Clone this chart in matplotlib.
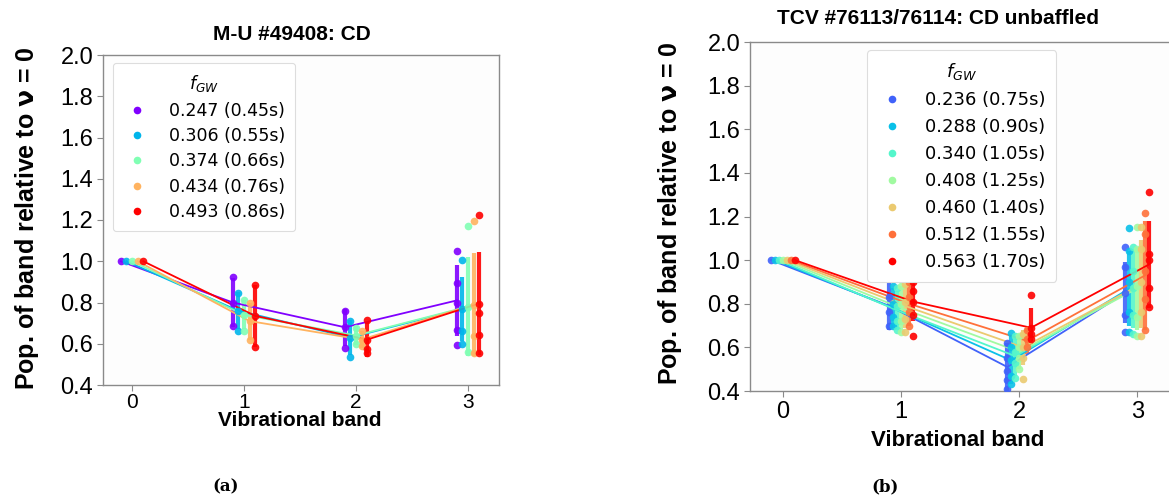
import numpy as np
import matplotlib
matplotlib.use("Agg")
import matplotlib.pyplot as plt
from matplotlib.lines import Line2D

# ---------------- data ----------------
bands = [0, 1, 2, 3]

# Panel (a): M-U #49408
a_labels = ["0.247 (0.45s)", "0.306 (0.55s)", "0.374 (0.66s)", "0.434 (0.76s)", "0.493 (0.86s)"]
a_means = [
    [1.0, 0.80, 0.68, 0.81],
    [1.0, 0.76, 0.63, 0.77],
    [1.0, 0.74, 0.64, 0.78],
    [1.0, 0.71, 0.62, 0.79],
    [1.0, 0.735, 0.62, 0.795],
]
a_errs = [
    [0.0, 0.12, 0.09, 0.17],
    [0.0, 0.09, 0.085, 0.155],
    [0.0, 0.07, 0.045, 0.24],
    [0.0, 0.09, 0.04, 0.25],
    [0.0, 0.15, 0.085, 0.25],
]
a_points = [
    [[1.0], [0.924, 0.80, 0.688], [0.757, 0.68, 0.578], [1.048, 0.895, 0.80, 0.667, 0.595]],
    [[1.0], [0.847, 0.76, 0.664], [0.708, 0.63, 0.538], [1.005, 0.77, 0.66, 0.60]],
    [[1.0], [0.81, 0.74, 0.66], [0.677, 0.64, 0.60], [1.173, 0.78, 0.56]],
    [[1.0], [0.80, 0.71, 0.62], [0.66, 0.62, 0.59], [1.194, 0.79, 0.64, 0.556]],
    [[1.0], [0.886, 0.735, 0.586], [0.716, 0.62, 0.575, 0.555], [1.222, 0.795, 0.749, 0.643, 0.554]],
]

# Panel (b): TCV #76113/76114
b_labels = ["0.236 (0.75s)", "0.288 (0.90s)", "0.340 (1.05s)", "0.408 (1.25s)",
            "0.460 (1.40s)", "0.512 (1.55s)", "0.563 (1.70s)"]
b_means = [
    [1.0, 0.79, 0.51, 0.85],
    [1.0, 0.78, 0.54, 0.87],
    [1.0, 0.77, 0.56, 0.87],
    [1.0, 0.78, 0.58, 0.87],
    [1.0, 0.79, 0.60, 0.89],
    [1.0, 0.80, 0.63, 0.93],
    [1.0, 0.81, 0.69, 0.98],
]
b_errs = [
    [0.0, 0.11, 0.11, 0.14],
    [0.0, 0.09, 0.11, 0.17],
    [0.0, 0.09, 0.09, 0.18],
    [0.0, 0.10, 0.08, 0.19],
    [0.0, 0.10, 0.08, 0.20],
    [0.0, 0.10, 0.06, 0.25],
    [0.0, 0.09, 0.09, 0.20],
]
b_points = [
    [[1.0], [0.92, 0.83, 0.76, 0.70], [0.62, 0.55, 0.49, 0.45, 0.41], [1.06, 0.97, 0.85, 0.75, 0.67]],
    [[1.0], [0.88, 0.80, 0.74, 0.70], [0.665, 0.60, 0.54, 0.47, 0.43], [1.146, 1.04, 0.90, 0.76, 0.67]],
    [[1.0], [0.87, 0.79, 0.72, 0.68], [0.65, 0.58, 0.53, 0.46], [1.06, 0.95, 0.87, 0.75, 0.66]],
    [[1.0], [0.88, 0.80, 0.72, 0.67], [0.65, 0.60, 0.55, 0.50], [1.15, 1.05, 0.88, 0.74, 0.65]],
    [[1.0], [0.89, 0.81, 0.73, 0.67], [0.66, 0.60, 0.55, 0.455], [1.15, 1.05, 0.90, 0.76, 0.65]],
    [[1.0], [0.90, 0.83, 0.76, 0.70], [0.68, 0.64, 0.60], [1.218, 1.12, 0.95, 0.82, 0.68]],
    [[1.0], [0.90, 0.86, 0.81, 0.75, 0.65], [0.84, 0.69, 0.66, 0.64], [1.314, 1.03, 1.0, 0.87, 0.785]],
]

yticks = [0.4, 0.6, 0.8, 1.0, 1.2, 1.4, 1.6, 1.8, 2.0]
ylabel = r"Pop. of band relative to $\mathbf{\nu}$ = 0"

W, H = 1169, 500
fig = plt.figure(figsize=(W / 100, H / 100), dpi=100)


def px_axes(x0, y0, x1, y1):
    return fig.add_axes([x0 / W, 1 - y1 / H, (x1 - x0) / W, (y1 - y0) / H])


def draw_panel(ax, means, errs, points, colors, xlim, xfs, xpad):
    n = len(means)
    offs = np.linspace(-0.1, 0.1, n)
    for i in range(n):
        c = colors[i]
        xs = np.array(bands) + offs[i]
        ax.plot(xs, means[i], '-', color=c, lw=1.3, zorder=3)
        lo = np.array(means[i]) - np.array(errs[i])
        hi = np.array(means[i]) + np.array(errs[i])
        ax.vlines(xs, lo, hi, color=c, lw=3.0, zorder=2, alpha=0.9)
        for b in bands:
            pts = points[i][b]
            ax.plot([xs[b]] * len(pts), pts, 'o', color=c, ms=5.5, mec='none', zorder=4, alpha=0.9)
    ax.set_xlim(*xlim)
    ax.set_ylim(0.4, 2.0)
    ax.set_yticks(yticks)
    ax.set_yticklabels([f"{t:.1f}" for t in yticks], family="Liberation Sans", fontsize=17)
    ax.set_xticks(bands)
    ax.set_xticklabels([str(b) for b in bands], family="Liberation Sans", fontsize=xfs)
    ax.set_facecolor("#fdfdfd")
    for s in ax.spines.values():
        s.set_color("#8a8a8a")
        s.set_linewidth(1.0)
    ax.tick_params(axis='both', colors="#8a8a8a", length=4, width=0.8, labelcolor="black", pad=3)
    ax.tick_params(axis='x', pad=xpad)


# Panel (a)
ax1 = px_axes(103, 55, 499, 385)
colors_a = plt.cm.rainbow(np.linspace(0, 1, 5))
draw_panel(ax1, a_means, a_errs, a_points, colors_a, (-0.259, 3.277), 15, 2)

# Panel (b)
ax2 = px_axes(750, 42, 1175, 391)
colors_b = plt.cm.rainbow(np.linspace(0.125, 1, 7))
draw_panel(ax2, b_means, b_errs, b_points, colors_b, (-0.28, 3.32), 17, 3)
ax2.spines['right'].set_visible(False)

fig.text(292 / W, 1 - 34 / H, "M-U #49408: CD", ha='center', va='center',
         family="Liberation Sans", fontweight='bold', fontsize=15)
fig.text(938 / W, 1 - 19 / H, "TCV #76113/76114: CD unbaffled", ha='center', va='center',
         family="Liberation Sans", fontweight='bold', fontsize=15)

fig.text(300 / W, 1 - 421 / H, "Vibrational band", ha='center', va='center',
         family="Liberation Sans", fontweight='bold', fontsize=15)
fig.text(958 / W, 1 - 441 / H, "Vibrational band", ha='center', va='center',
         family="Liberation Sans", fontweight='bold', fontsize=16)

fig.text(27 / W, 1 - 218 / H, ylabel, ha='center', va='center', rotation=90,
         family="Liberation Sans", fontweight='bold', fontsize=18)
fig.text(670 / W, 1 - 213 / H, ylabel, ha='center', va='center', rotation=90,
         family="Liberation Sans", fontweight='bold', fontsize=18)

fig.text(226 / W, 1 - 487 / H, "(a)", ha='center', va='center',
         family="DejaVu Serif", fontweight='bold', fontsize=12)
fig.text(885 / W, 1 - 487 / H, "(b)", ha='center', va='center',
         family="DejaVu Serif", fontweight='bold', fontsize=12)


def add_legend(ax, labels, colors, anchor, fs, spacing):
    handles = [Line2D([], [], ls='none', marker='o', ms=5.5, mec='none', color=c) for c in colors]
    leg = ax.legend(handles, labels, title=r"$f_{GW}$", loc='upper left',
                    bbox_to_anchor=anchor, bbox_transform=fig.transFigure,
                    prop={'family': 'DejaVu Sans', 'size': fs}, title_fontsize=fs,
                    labelspacing=spacing, handlelength=1.6, handletextpad=1.0,
                    borderpad=0.6, borderaxespad=0.0, frameon=True, fancybox=True,
                    framealpha=1.0, edgecolor="#dddddd")
    leg.get_frame().set_linewidth(0.8)
    return leg


add_legend(ax1, a_labels, colors_a, (113 / W, 1 - 63 / H), 12.5, 0.42)
add_legend(ax2, b_labels, colors_b, (867 / W, 1 - 50 / H), 13, 0.5)

fig.savefig("out.png", dpi=100)
